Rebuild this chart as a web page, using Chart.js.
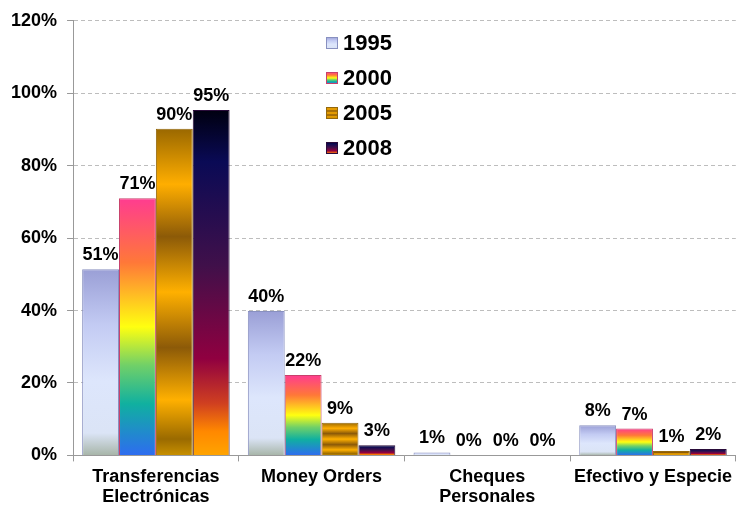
<!DOCTYPE html>
<html>
<head>
<meta charset="utf-8">
<script src="https://cdn.jsdelivr.net/npm/chart.js@4.4.0/dist/chart.umd.min.js"></script>
<style>
  html, body { margin: 0; padding: 0; background: #fff; }
  #wrap { width: 738px; height: 508px; }
</style>
</head>
<body>
<div id="wrap"><canvas id="chart" width="738" height="508"></canvas></div>
<script>
// categorías y valores (en %)
const categories = [['Transferencias', 'Electrónicas'], 'Money Orders', ['Cheques', 'Personales'], 'Efectivo y Especie'];
const years = ['1995', '2000', '2005', '2008'];
const values1995 = [51.4, 39.9, 0.8, 8.3];
const values2000 = [71, 22.2, 0, 7.4];
const values2005 = [90.2, 9, 0, 1.2];
const values2008 = [95.4, 2.8, 0, 1.8];
const yTicks = [0, 20, 40, 60, 80, 100, 120];

const FONT = "Arial, 'Liberation Sans', sans-serif";

// degradados de cada serie (de arriba hacia abajo)
const fills = [
  [[0, '#9a9fd6'], [0.3, '#c3cbf3'], [0.6, '#dde6fc'], [0.88, '#dbe4f6'], [1, '#a7b5a8']],
  [[0, '#ff3c90'], [0.25, '#ff7838'], [0.5, '#ffff10'], [0.65, '#70d068'], [0.8, '#10b0a0'], [1, '#2e6cf0']],
  [[0, '#9a6800'], [0.17, '#ffae00'], [0.33, '#8c5a08'], [0.5, '#ffb000'], [0.67, '#8c5a08'],
   [0.83, '#ffb000'], [0.95, '#9a6a00'], [1, '#c89000']],
  [[0, '#000010'], [0.15, '#0a0a55'], [0.45, '#40104a'], [0.72, '#900040'], [0.85, '#d04020'],
   [0.93, '#ff8800'], [1, '#ffa400']]
];
const solids = ['#c3cbf3', '#ff7838', '#ffae00', '#40104a'];
const borders = ['#8890c0', '#c8406a', '#94680c', '#2a0c3a'];

function gradient(ctx, top, bottom, stops) {
  const g = ctx.createLinearGradient(0, top, 0, bottom);
  stops.forEach(s => g.addColorStop(s[0], s[1]));
  return g;
}

function barFill(c, si) {
  const chart = c.chart;
  const y = chart.scales.y;
  if (c.type !== 'data' || !y || !chart.chartArea) return solids[si];
  const top = y.getPixelForValue(c.raw);
  const base = y.getPixelForValue(0);
  if (base - top < 1) return solids[si];
  return gradient(chart.ctx, top, base, fills[si]);
}

const seriesValues = [values1995, values2000, values2005, values2008];

// etiquetas de valores sobre las barras
const valueLabels = {
  id: 'valueLabels',
  afterDatasetsDraw(chart) {
    const ctx = chart.ctx;
    ctx.save();
    ctx.font = 'bold 18px ' + FONT;
    ctx.fillStyle = '#000';
    ctx.textAlign = 'center';
    ctx.textBaseline = 'bottom';
    chart.data.datasets.forEach((ds, i) => {
      chart.getDatasetMeta(i).data.forEach((el, j) => {
        ctx.fillText(Math.round(ds.data[j]) + '%', el.x, el.y - 5);
      });
    });
    ctx.restore();
  }
};

// leyenda dentro del área del gráfico
const innerLegend = {
  id: 'innerLegend',
  afterDraw(chart) {
    const ctx = chart.ctx;
    ctx.save();
    ctx.font = 'bold 22px ' + FONT;
    ctx.textBaseline = 'middle';
    ctx.fillStyle = '#000';
    years.forEach((yr, i) => {
      const cy = 43 + i * 35;
      const bx = 326, by = cy - 6, s = 12;
      ctx.fillStyle = gradient(ctx, by, by + s, fills[i]);
      ctx.fillRect(bx, by, s, s);
      ctx.strokeStyle = borders[i];
      ctx.lineWidth = 1;
      ctx.strokeRect(bx + 0.5, by + 0.5, s - 1, s - 1);
      ctx.fillStyle = '#000';
      ctx.fillText(yr, 343, cy + 1);
    });
    ctx.restore();
  }
};

new Chart(document.getElementById('chart'), {
  type: 'bar',
  data: {
    labels: categories,
    datasets: years.map((yr, i) => ({
      label: yr,
      data: seriesValues[i],
      backgroundColor: c => barFill(c, i),
      borderColor: borders[i],
      borderWidth: 1,
      categoryPercentage: 0.89,
      barPercentage: 1
    }))
  },
  options: {
    responsive: false,
    animation: false,
    layout: { padding: { left: 1, right: -2, top: 7, bottom: -5 } },
    plugins: {
      legend: { display: false },
      tooltip: { enabled: false }
    },
    scales: {
      x: {
        grid: { offset: true, drawOnChartArea: false, tickLength: 6, color: '#999' },
        border: { color: '#999', width: 1 },
        ticks: { color: '#000', font: { family: FONT, size: 18, weight: 'bold', lineHeight: 1.1 }, padding: 6, maxRotation: 0 }
      },
      y: {
        min: 0,
        max: 120,
        afterBuildTicks: s => { s.ticks = yTicks.map(v => ({ value: v })); },
        grid: { color: '#bdbdbd', tickLength: 6, tickColor: '#999' },
        border: { color: '#999', width: 1, dash: [4, 3] },
        ticks: { color: '#000', font: { family: FONT, size: 18, weight: 'bold' }, padding: 10, callback: v => v + '%' }
      }
    }
  },
  plugins: [valueLabels, innerLegend]
});
</script>
</body>
</html>
